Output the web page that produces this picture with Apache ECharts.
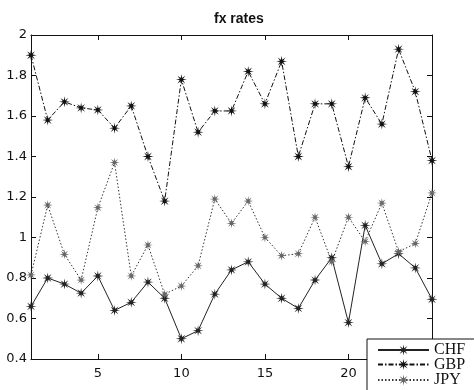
<!DOCTYPE html>
<html><head><meta charset="utf-8">
<script src="https://cdn.jsdelivr.net/npm/echarts@6/dist/echarts.min.js"></script>
<style>html,body{margin:0;padding:0;background:#fff}#c{width:474px;height:390px}</style>
</head><body><div id="c"></div>
<script>
const days = [1,2,3,4,5,6,7,8,9,10,11,12,13,14,15,16,17,18,19,20,21,22,23,24,25];
const chf = [0.66,0.80,0.77,0.725,0.81,0.64,0.68,0.78,0.70,0.50,0.54,0.72,0.84,0.88,0.77,0.70,0.65,0.79,0.90,0.58,1.06,0.87,0.92,0.85,0.695];
const gbp = [1.90,1.58,1.67,1.64,1.63,1.54,1.65,1.40,1.18,1.78,1.52,1.625,1.625,1.82,1.66,1.87,1.40,1.66,1.66,1.35,1.69,1.56,1.93,1.72,1.38];
const jpy = [0.815,1.16,0.917,0.79,1.147,1.37,0.81,0.963,0.72,0.76,0.86,1.19,1.07,1.18,1.0,0.91,0.92,1.10,0.88,1.10,0.98,1.17,0.93,0.97,1.22];
const names = ['CHF','GBP','JPY'];
const xTicks = [5,10,15,20,25];

function starPath(n, ro, ri){
  let p = '';
  for (let k = 0; k < 2*n; k++){
    const a = Math.PI*k/n - Math.PI/2;
    const r = k%2===0 ? ro : ri;
    p += (k===0?'M':'L') + (r*Math.cos(a)).toFixed(3) + ',' + (r*Math.sin(a)).toFixed(3);
  }
  return 'path://' + p + 'Z';
}
const star = starPath(8, 5, 1.6);

const chart = echarts.init(document.getElementById('c'));
const pairs = arr => arr.map((v,i)=>[days[i], v]);
const lab = {fontFamily:'DejaVu Sans', fontSize:13, color:'#111'};
const legendTops = [342, 356.5, 372];
chart.setOption({
  animation:false,
  title:{text:'fx rates', left:209, top:7, textStyle:{fontFamily:'Liberation Sans', fontWeight:'bold', fontSize:14, color:'#111'}},
  grid:{left:31, right:42, top:35, bottom:31},
  graphic:[{type:'rect', left:366.5, top:338.5, z:3, silent:true,
    shape:{width:120, height:70}, style:{fill:'#fff', stroke:'#111', lineWidth:1}}],
  legend: names.map((n,i)=>({
    orient:'vertical', left:377, top:legendTops[i], itemWidth:51, itemHeight:14,
    padding:0, z:10, selectedMode:false,
    textStyle:{fontFamily:'Liberation Serif', fontSize:16, lineHeight:14, color:'#111'},
    data:[n]
  })),
  xAxis:[
    {type:'value', min:1, max:25, position:'bottom',
     axisLine:{lineStyle:{color:'#111'}}, splitLine:{show:false},
     axisTick:{inside:true, length:5, customValues:xTicks, lineStyle:{color:'#111'}},
     axisLabel:Object.assign({customValues:xTicks, margin:8}, lab)},
    {type:'value', min:1, max:25, position:'top',
     axisLine:{lineStyle:{color:'#111'}}, splitLine:{show:false},
     axisTick:{inside:true, length:5, customValues:xTicks, lineStyle:{color:'#111'}},
     axisLabel:{show:false}}
  ],
  yAxis:[
    {type:'value', min:0.4, max:2, interval:0.2, position:'left',
     axisLine:{show:true, lineStyle:{color:'#111'}}, splitLine:{show:false},
     axisTick:{show:true, inside:true, length:5, lineStyle:{color:'#111'}},
     axisLabel:Object.assign({margin:4}, lab)},
    {type:'value', min:0.4, max:2, interval:0.2, position:'right',
     axisLine:{show:true, lineStyle:{color:'#111'}}, splitLine:{show:false},
     axisTick:{show:true, inside:true, length:5, lineStyle:{color:'#111'}},
     axisLabel:{show:false}}
  ],
  series:[
    {name:'CHF', type:'line', data:pairs(chf), symbol:star, symbolSize:11,
     itemStyle:{color:'#222'}, lineStyle:{color:'#222', width:1, type:'solid'}},
    {name:'GBP', type:'line', data:pairs(gbp), symbol:star, symbolSize:11,
     itemStyle:{color:'#111'}, lineStyle:{color:'#111', width:1, type:[5,2,1.5,2]}},
    {name:'JPY', type:'line', data:pairs(jpy), symbol:star, symbolSize:10,
     itemStyle:{color:'#666'}, lineStyle:{color:'#333', width:1, type:[1.5,2]}}
  ]
});
</script></body></html>
